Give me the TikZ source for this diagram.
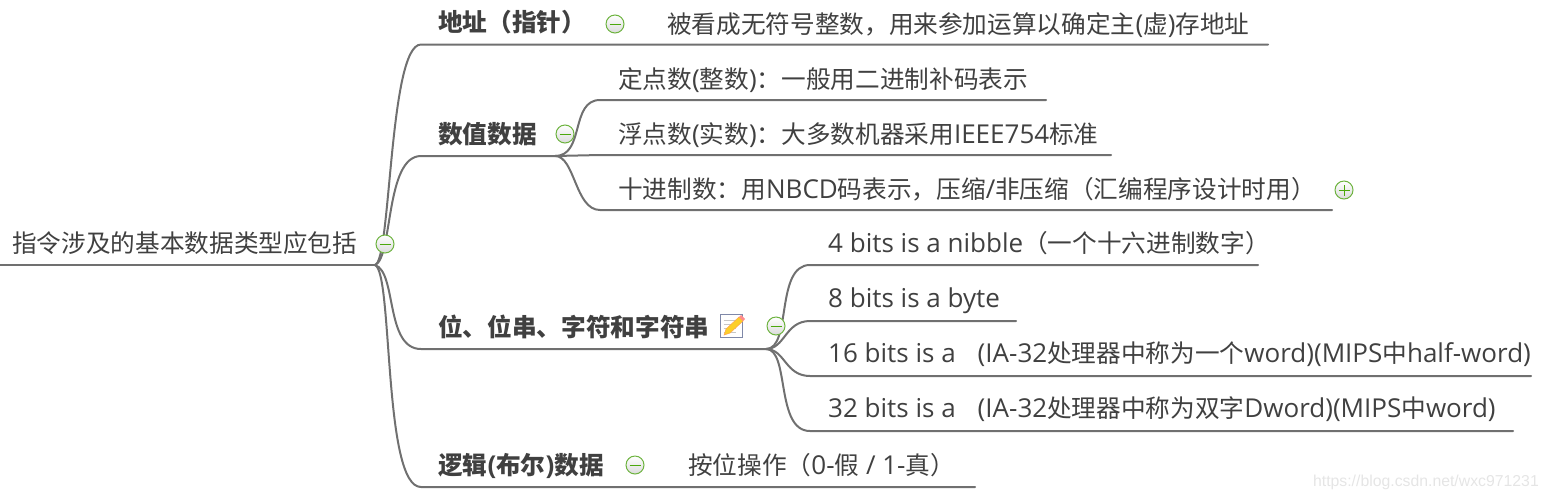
\documentclass[tikz,border=0pt]{standalone}
\usepackage{fontspec}
\setmainfont{Open Sans}
\newfontfamily\cjkf[Scale=0.948]{Noto Sans CJK SC}
\newcommand{\C}[1]{{\cjkf #1}}
\usetikzlibrary{shadings}
\definecolor{ink}{HTML}{404040}
\definecolor{wire}{HTML}{707070}
\definecolor{togb}{HTML}{6DB33F}
\definecolor{togl}{HTML}{4CA80C}
\definecolor{iconb}{HTML}{7F88A8}
\tikzset{
  x=1pt,y=-1pt,
  wirepath/.style={draw=wire,line width=2pt,line cap=round},
  lab/.style={anchor=base west,inner sep=0pt,text=ink,font=\fontsize{26}{30}\selectfont},
  main/.style={lab,font=\fontsize{26}{30}\selectfont\bfseries},
  togbase/.style={circle,minimum size=18pt,inner sep=0pt,draw=togb,line width=1pt,top color=white,bottom color=black!14},
}
\newcommand{\tog}[3][]{\node[togbase] (#2) at (#3) {};
  \draw[togl,line width=1pt] ([xshift=-5.5pt]#2.center) -- ([xshift=5.5pt]#2.center);
  \if\relax\detokenize{#1}\relax\else
  \draw[togl,line width=1pt] ([yshift=-5.5pt]#2.center) -- ([yshift=5.5pt]#2.center);\fi}
\begin{document}
\begin{tikzpicture}
\useasboundingbox (0,0) rectangle (1546,499);
% ends of underlines
\coordinate (r0) at (0,265);   \coordinate (r1) at (375,265);
\coordinate (a0) at (421,44.5);\coordinate (a1) at (1268,44.5);
\coordinate (b0) at (421,156); \coordinate (b1) at (555,156);
\coordinate (c0) at (421,349); \coordinate (c1) at (766,349);
\coordinate (d0) at (421,487); \coordinate (d1) at (975,487);
\coordinate (b2s) at (600,100);\coordinate (b2e) at (1046,100);
\coordinate (b3s) at (600,155);\coordinate (b3e) at (1111,155);
\coordinate (b4s) at (600,210);\coordinate (b4e) at (1332,210);
\coordinate (c2s) at (810,265);\coordinate (c2e) at (1258,265);
\coordinate (c3s) at (810,321);\coordinate (c3e) at (1016,321);
\coordinate (c4s) at (810,376);\coordinate (c4e) at (1531,376);
\coordinate (c5s) at (810,431);\coordinate (c5e) at (1513,431);
% connectors
\draw[wirepath] (r0) -- (r1);
\draw[wirepath] (r1) .. controls (391,262) and (389,44.5) .. (a0) -- (a1);
\draw[wirepath] (r1) .. controls (393,258) and (385,156) .. (b0) -- (b1);
\draw[wirepath] (r1) .. controls (397,272) and (385,349) .. (c0) -- (c1);
\draw[wirepath] (r1) .. controls (393,272) and (383,487) .. (d0) -- (d1);
\draw[wirepath] (b1) .. controls (585,156) and (570,100) .. (b2s) -- (b2e);
\draw[wirepath] (b1) -- (b3s) -- (b3e);
\draw[wirepath] (b1) .. controls (575,156) and (575,210) .. (b4s) -- (b4e);
\draw[wirepath] (c1) .. controls (792,349) and (775,265) .. (c2s) -- (c2e);
\draw[wirepath] (c1) .. controls (785,349) and (785,321) .. (c3s) -- (c3e);
\draw[wirepath] (c1) .. controls (785,349) and (785,376) .. (c4s) -- (c4e);
\draw[wirepath] (c1) .. controls (790,349) and (775,431) .. (c5s) -- (c5e);
% labels
\node[lab] (root) at (12,252) {\C{指令涉及的基本数据类型应包括}};
\node[main] (addr) at (438,31) {\C{地址（指针）}};
\node[lab] (addrt) at (667,33) {\C{被看成无符号整数，用来参加运算以确定主}(\C{虚})\C{存地址}};
\node[main] (num) at (438,143) {\C{数值数据}};
\node[lab] (n1) at (618,88) {\C{定点数}(\C{整数})\C{：一般用二进制补码表示}};
\node[lab] (n2) at (618,143) {\C{浮点数}(\C{实数})\C{：大多数机器采用}IEEE754\C{标准}};
\node[lab] (n3) at (618,198) {\C{十进制数：用}NBCD\C{码表示，压缩}/\C{非压缩（汇编程序设计时用）}};
\node[main] (bits) at (438,336) {\C{位、位串、字符和字符串}};
\node[lab] (s1) at (828,252) {4 bits is a nibble\C{（一个十六进制数字）}};
\node[lab] (s2) at (828,307) {8 bits is a byte};
\node[lab] (s3) at (828,362) {16 bits is a\hspace{22pt}(IA-32\C{处理器中称为一个}word)(MIPS\C{中}half-word)};
\node[lab] (s4) at (828,417) {32 bits is a\hspace{22pt}(IA-32\C{处理器中称为双字}Dword)(MIPS\C{中}word)};
\node[main] (logic) at (438,474) {\C{逻辑}(\C{布尔})\C{数据}};
\node[lab] (lt) at (688,474) {\C{按位操作（}0-\C{假} / 1-\C{真）}};
% toggles
\tog{t0}{385,244}
\tog{t1}{615,24}
\tog{t2}{565,134}
\tog[p]{t3}{1344,190}
\tog{t4}{776,326}
\tog{t5}{635,465}
% note icon
\fill[white,draw=iconb,line width=1.4pt] (720.5,314.5) rectangle (742.5,337.5);
\foreach \yy in {320,324,328,332}{\draw[black!22,line width=1pt] (723.5,\yy) -- (736,\yy);}
\fill[yellow!60!orange!85!white,draw=orange!70!white,line width=.5pt] (724,335) -- (726,329) -- (739,317) -- (743,321) -- (730,333) -- cycle;
\fill[red!45!white] (739,317) -- (741,315) -- (745,319) -- (743,321) -- cycle;
% watermark
\node[anchor=base east,inner sep=0pt,text=black!10,font=\fontsize{15.8}{18}\selectfont\fontspec{Liberation Sans}] (wm) at (1539,486) {https://blog.csdn.net/wxc971231};
\end{tikzpicture}
\end{document}
